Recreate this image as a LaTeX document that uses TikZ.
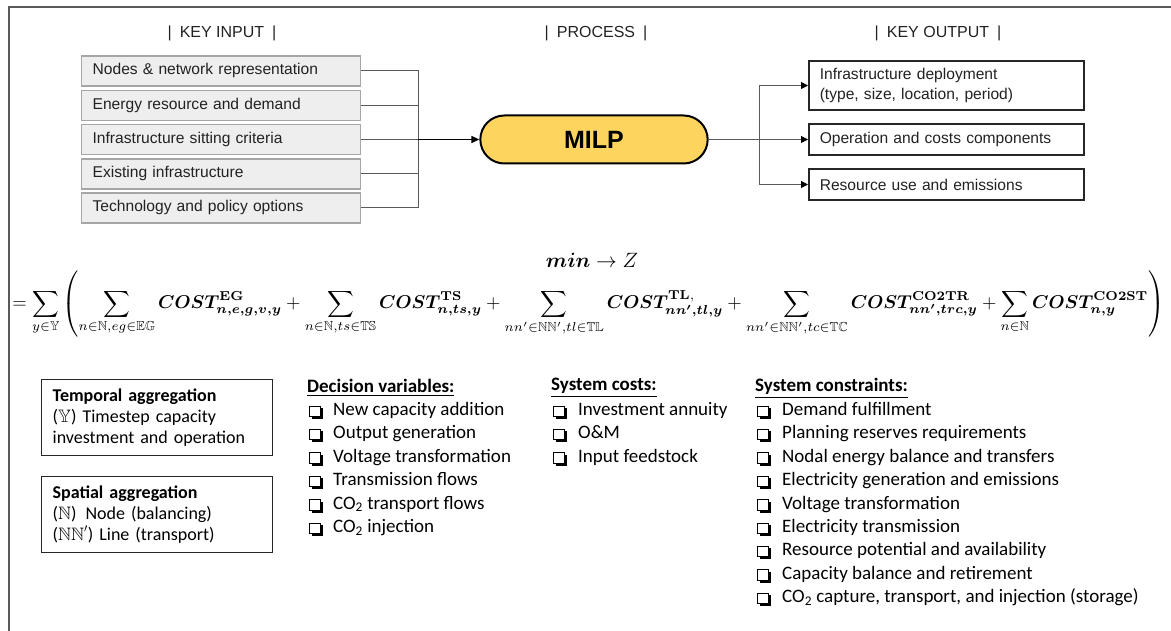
\documentclass[tikz,border=0pt]{standalone}
\usepackage{amsmath,amssymb,bm}
\usepackage[no-math]{fontspec}
\setmainfont{Liberation Sans}
\newfontfamily\cali{Carlito}
\usetikzlibrary{arrows.meta,shapes.misc}
\definecolor{milpfill}{HTML}{FDD55E}
\definecolor{inboxfill}{HTML}{EEEEEE}
\definecolor{inbord}{HTML}{A6A6A6}
\definecolor{linec}{HTML}{5A5A5A}
\definecolor{txt}{HTML}{222222}
\newcommand{\CST}{\boldsymbol{COST}}
\newcommand{\robotxt}{\fontsize{15.6}{20}\selectfont}
\begin{document}
\begin{tikzpicture}[x=1pt,y=-1pt,
  inbox/.style={draw=inbord, fill=inboxfill, line width=1.3pt, minimum height=30pt, text width=257pt, inner xsep=11pt, align=left, font=\robotxt, text=txt, text height=11pt, text depth=3pt},
  outbox/.style={draw=black!85, line width=1.5pt, text width=253pt, inner xsep=11pt, align=left, font=\robotxt, text=txt},
  hdr/.style={font=\fontsize{16}{19}\selectfont, text=txt},
  conn/.style={draw=linec, line width=1pt},
  arr/.style={conn, -{Triangle[length=7pt,width=7pt,color=black]}},
  aggbox/.style={draw=black!85, line width=1.3pt, minimum width=231pt, text width=209pt, inner xsep=11pt, align=left, font=\cali\fontsize{18}{21}\selectfont, anchor=north west},
  lsthead/.style={anchor=west, inner sep=0pt, font=\cali\bfseries\fontsize{19}{23}\selectfont},
  lstitem/.style={anchor=west, inner sep=0pt, font=\cali\fontsize{19}{23}\selectfont, text height=12pt, text depth=4pt},
  chk/.pic={\fill[black] (-3.5,-3.5) rectangle (7.5,7.5);
            \filldraw[fill=white,draw=black,line width=1pt] (-5.5,-5.5) rectangle (5,5);}
]
\useasboundingbox (0,0) rectangle (1171,631);
% frame
\draw[linec, line width=2pt] (9,631) -- (9,7) -- (1171,7);

% headers
\node[hdr] (hin) at (222,33) {|\enspace KEY INPUT\enspace |};
\node[hdr] (hpr) at (596,33) {|\enspace PROCESS\enspace |};
\node[hdr] (hout) at (938,33) {|\enspace KEY OUTPUT\enspace |};

% inputs
\node[inbox, anchor=west] (in1) at (81,71) {Nodes \& network representation};
\node[inbox, anchor=west] (in2) at (81,105.5) {Energy resource and demand};
\node[inbox, anchor=west] (in3) at (81,139.5) {Infrastructure sitting criteria};
\node[inbox, anchor=west] (in4) at (81,174) {Existing infrastructure};
\node[inbox, anchor=west] (in5) at (81,208) {Technology and policy options};

% process
\node[rounded rectangle, draw=black, line width=2pt, fill=milpfill, minimum width=234pt, minimum height=48pt, font=\bfseries\fontsize{25}{30}\selectfont] (milp) at (594,139.5) {MILP};

% outputs
\node[outbox, anchor=west, minimum height=49pt] (out1) at (808,85.5) {Infrastructure deployment\\(type, size, location, period)};
\node[outbox, anchor=west, minimum height=31pt] (out2) at (808,139.5) {Operation and costs components};
\node[outbox, anchor=west, minimum height=31pt] (out3) at (808,184.5) {Resource use and emissions};

% connectors
\coordinate (ibus) at (418,139.5);
\coordinate (obus) at (759,139.5);
\foreach \k in {1,...,5} \draw[conn] (in\k.east) -| (ibus);
\draw[line width=1.4pt, -{Triangle[length=8pt,width=7pt]}] (ibus) -- (milp.west);
\draw[conn] (milp.east) -- (obus);
\foreach \k in {1,2,3} \draw[arr] (obus) |- (out\k.west);

% objective
\node (minz) at (592,260) {\fontsize{20}{24}\selectfont$\boldsymbol{min}\rightarrow Z$};
\node (eq) at (588.5,304) {\resizebox{1152pt}{!}{$\displaystyle
 = \sum_{y\in\mathbb{Y}} \left( \sum_{n\in\mathbb{N},eg\in\mathbb{EG}} \CST^{\mathbf{EG}}_{\boldsymbol{n,e,g,v,y}} + \sum_{n\in\mathbb{N},ts\in\mathbb{TS}} \CST^{\mathbf{TS}}_{\boldsymbol{n,ts,y}} + \sum_{nn'\in\mathbb{NN}',tl\in\mathbb{TL}} \CST^{\mathbf{TL},}_{\boldsymbol{nn',tl,y}} + \sum_{nn'\in\mathbb{NN}',tc\in\mathbb{TC}} \CST^{\mathbf{CO2TR}}_{\boldsymbol{nn',trc,y}} + \sum_{n\in\mathbb{N}} \CST^{\mathbf{CO2ST}}_{\boldsymbol{n,y}} \right)$}};

% aggregation boxes
\node[aggbox, minimum height=76pt] (temp) at (41,379) {\textbf{Temporal aggregation}\\($\mathbb{Y}$) Timestep capacity\\investment and operation};
\node[aggbox, minimum height=76pt] (spat) at (41,476) {\textbf{Spatial aggregation}\\($\mathbb{N}$)\enspace Node (balancing)\\($\mathbb{NN}'$) Line (transport)};

% lists
\node[lsthead] (dvh) at (307,388) {\underline{Decision variables:}};
\foreach \t [count=\i] in {New capacity addition, Output generation, Voltage transformation, Transmission flows, CO\textsubscript{2} transport flows, CO\textsubscript{2} injection}{
  \pgfmathsetmacro{\yy}{411.5+(\i-1)*23.4}
  \pic at (315,\yy) {chk};
  \node[lstitem] (dv\i) at (333,\yy) {\t};
}
\node[lsthead] (sch) at (551,388) {\underline{System costs:}};
\foreach \t [count=\i] in {Investment annuity, O\&M, Input feedstock}{
  \pgfmathsetmacro{\yy}{411.5+(\i-1)*23.4}
  \pic at (559,\yy) {chk};
  \node[lstitem] (sc\i) at (578,\yy) {\t};
}
\node[lsthead] (cnh) at (755,388) {\underline{System constraints:}};
\foreach \t [count=\i] in {Demand fulfillment, Planning reserves requirements, Nodal energy balance and transfers, Electricity generation and emissions, Voltage transformation, Electricity transmission, Resource potential and availability, Capacity balance and retirement, {CO\textsubscript{2} capture, transport, and injection (storage)}}{
  \pgfmathsetmacro{\yy}{411.5+(\i-1)*23.4}
  \pic at (763,\yy) {chk};
  \node[lstitem] (cn\i) at (782,\yy) {\t};
}
\end{tikzpicture}
\end{document}
